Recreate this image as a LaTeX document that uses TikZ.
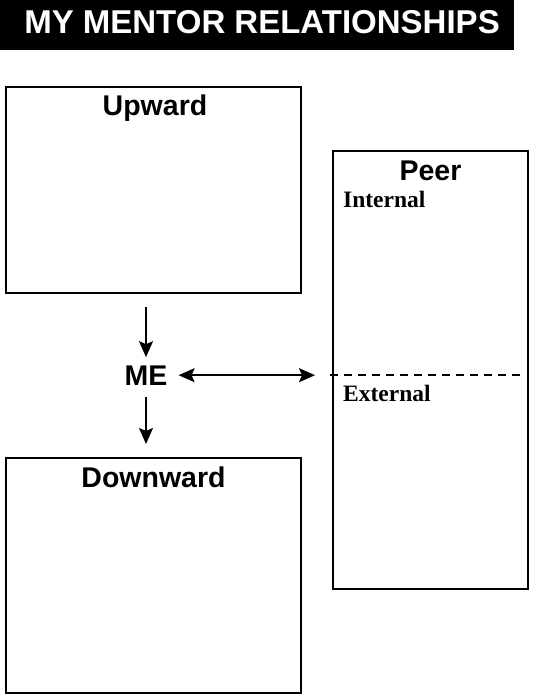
\documentclass[tikz,border=0pt]{standalone}
\usepackage{fontspec}
\setmainfont{Liberation Serif}
\newfontfamily\arialfont{Liberation Sans}
\usetikzlibrary{arrows.meta}

\begin{document}
\begin{tikzpicture}[x=1pt, y=-1pt,
		box/.style={draw, line width=2.3pt, inner sep=0pt, outer sep=0pt},
		heading/.style={font=\arialfont\bfseries\fontsize{28.5}{30}\selectfont, inner sep=0pt, anchor=base},
		subhead/.style={font=\bfseries\fontsize{23.5}{26}\selectfont, inner sep=0pt, anchor=base west},
		tip/.style={arrows={-Stealth[length=16pt, width=14pt, inset=3pt]}},
		arr/.style={line width=1.6pt, tip},
		divider/.style={line width=1.2pt, dash pattern=on 8pt off 6pt}]
	
	\useasboundingbox (0,0) rectangle (535,695);
	
	% title bar
	\node[fill=black, minimum width=514pt, minimum height=50pt, inner sep=0pt, anchor=north west] (bar) at (0,0) {};
	\node[heading, text=white, font=\arialfont\bfseries\fontsize{33}{35}\selectfont] (title) at (262,34) {MY MENTOR RELATIONSHIPS};
	
	% the three boxes
	\node[box, minimum width=295pt, minimum height=206pt] (upward) at (153.5,190) {};
	\node[box, minimum width=195pt, minimum height=438pt] (peer) at (430.5,370) {};
	\node[box, minimum width=295pt, minimum height=235pt] (downward) at (153.5,575.5) {};
	
	\node[heading] (upwardlbl) at (155,116) {Upward};
	\node[heading] (peerlbl) at (430.5,180) {Peer};
	\node[heading] (downwardlbl) at (153.5,487) {Downward};
	\node[subhead] (internal) at (343,207) {Internal};
	\node[subhead] (external) at (343,401) {External};
	
	\coordinate (splitL) at (330,375);
	\coordinate (splitR) at (525,375);
	\draw[divider] (splitL) -- (splitR);
	
	% me in the middle
	\node[heading] (me) at (146,385) {ME};
	
	\draw[arr, shorten <=14pt, shorten >=8pt] (upward.south -| me.north) -- (me.north);
	\draw[arr, shorten <=12pt, shorten >=14pt] (me.south) -- (me.south |- downward.north);
	\draw[arr, arrows={Stealth[length=16pt, width=14pt, inset=3pt]-Stealth[length=16pt, width=14pt, inset=3pt]}, shorten <=11pt, shorten >=18pt] (me.east) -- (me.east -| peer.west);
	
\end{tikzpicture}
\end{document}
